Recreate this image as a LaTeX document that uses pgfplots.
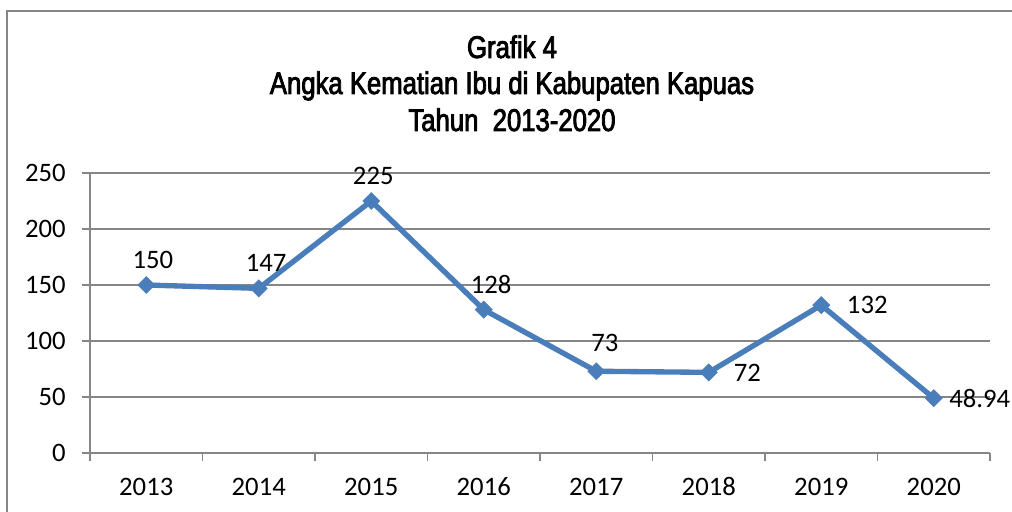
\documentclass[border=0pt]{standalone}
\usepackage{fontspec}
\setmainfont{Carlito}
\newfontfamily\titlefont[FakeStretch=0.82, FakeBold=2.6]{Liberation Sans}
\usepackage{pgfplots}
\pgfplotsset{compat=1.18}
\definecolor{linecol}{HTML}{4A7EBB}
\definecolor{gridcol}{HTML}{868686}
\begin{document}
\begin{tikzpicture}
\useasboundingbox (0,0) rectangle (759pt,383.25pt);
\draw[gridcol, line width=1.5pt] (5.25pt,-1pt) -- (5.25pt,375pt) -- (760pt,375pt);
\node[anchor=base, inner sep=0pt] at (384pt,339.75pt) {\titlefont\fontsize{23.5}{24}\selectfont Grafik 4};
\node[anchor=base, inner sep=0pt] at (384pt,312.75pt) {\titlefont\fontsize{23.5}{24}\selectfont Angka Kematian Ibu di Kabupaten Kapuas};
\node[anchor=base, inner sep=0pt] at (384pt,285pt) {\titlefont\fontsize{23.5}{24}\selectfont Tahun\ \ 2013-2020};
\begin{axis}[
  at={(67.5pt,43.5pt)}, anchor=south west,
  scale only axis, width=675pt, height=210pt,
  xmin=-0.5, xmax=7.5, ymin=0, ymax=250,
  axis x line*=bottom, axis y line*=left,
  axis line style={gridcol, line width=1.1pt, -},
  /pgf/number format/assume math mode=true,
  xtick={0,...,7},
  xticklabels={2013,2014,2015,2016,2017,2018,2019,2020},
  minor xtick={-0.5,0.5,...,7.5},
  major x tick style={draw=none},
  minor x tick style={gridcol, line width=1.1pt},
  minor tick length=6pt,
  ytick={0,50,...,250},
  ymajorgrids,
  grid style={gridcol, line width=1.1pt},
  y tick style={gridcol, line width=1.1pt},
  major tick length=6pt,
  tick align=outside,
  yticklabel style={anchor=east, inner sep=0pt, xshift=-12pt, font=\fontsize{20}{24}\selectfont},
  xticklabel style={anchor=base, inner sep=0pt, yshift=-25.5pt, font=\fontsize{20}{24}\selectfont},
  clip=false,
]
\addplot[
  color=linecol, line width=4pt,
  mark=square*, mark size=4.5pt,
  mark options={rotate=45, fill=linecol, draw=linecol, line width=0.5pt},
  nodes near coords,
  point meta=explicit symbolic,
  visualization depends on={\thisrow{dx} \as \dx},
  visualization depends on={\thisrow{dy} \as \dy},
  every node near coord/.append style={
    anchor=center, inner sep=0pt, text=black,
    font=\fontsize{20}{24}\selectfont,
    xshift=\dx pt, yshift=\dy pt},
] table[x=x, y=y, meta=lab] {
x y lab dx dy
0 150 150 5 19
1 147 147 5.5 19
2 225 225 1.5 18.5
3 128 128 5.5 19
4 73 73 6.5 21
5 72 72 29 0
6 132 132 34.5 0
7 48.94 48.94 34.5 0
};
\end{axis}
\end{tikzpicture}
\end{document}
